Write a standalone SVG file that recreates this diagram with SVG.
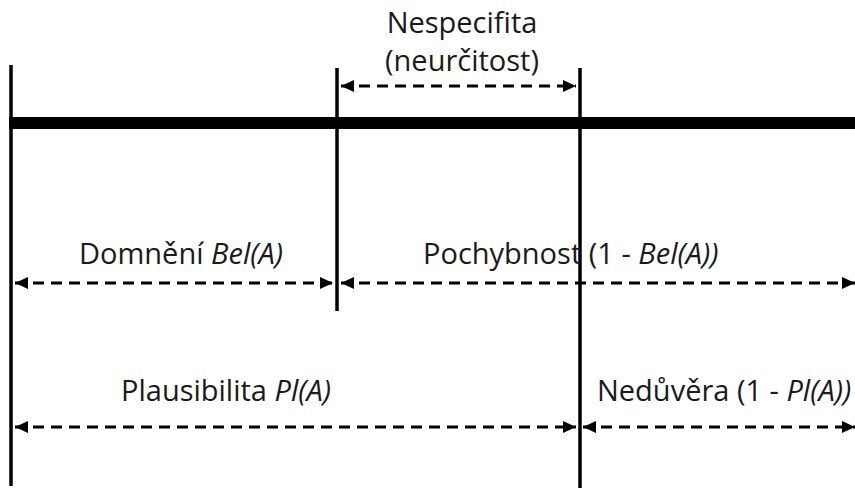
<svg xmlns="http://www.w3.org/2000/svg" width="855" height="488" viewBox="0 0 855 488">
  <style>
    .lbl { font-family: "Open Sans", "Noto Sans", sans-serif; font-size: 29px; fill: #1a1a1a; }
    .it { font-style: italic; }
    .bound { stroke: #000; stroke-width: 3.5; fill: none; }
    .span { stroke: #000; stroke-width: 3; stroke-dasharray: 11 7; fill: none; }
  </style>
  <defs>
    <marker id="head" viewBox="0 0 13 12" refX="13" refY="6" markerWidth="13" markerHeight="12" markerUnits="userSpaceOnUse" orient="auto-start-reverse">
      <path d="M0 0 L13 6 L0 12 Z" fill="#000"/>
    </marker>
  </defs>

  <!-- scale axis and boundaries -->
  <g id="axis">
    <rect x="9" y="117" width="846" height="12" fill="#000"/>
    <line class="bound" x1="11" y1="65" x2="11" y2="486"/>
    <line class="bound" x1="337" y1="68" x2="337" y2="311"/>
    <line class="bound" x1="580" y1="68" x2="580" y2="488"/>
  </g>

  <!-- interval spans -->
  <g id="connectors">
    <line class="span" x1="341" y1="86" x2="576" y2="86" marker-start="url(#head)" marker-end="url(#head)"/>
    <line class="span" x1="15" y1="283" x2="333" y2="283" marker-start="url(#head)" marker-end="url(#head)"/>
    <line class="span" x1="341" y1="283" x2="855" y2="283" marker-start="url(#head)" marker-end="url(#head)"/>
    <line class="span" x1="15" y1="427" x2="576" y2="427" marker-start="url(#head)" marker-end="url(#head)"/>
    <line class="span" x1="583" y1="427" x2="855" y2="427" marker-start="url(#head)" marker-end="url(#head)"/>
  </g>

  <g id="nespecifita">
    <text class="lbl" x="462" y="33" text-anchor="middle">Nespecifita</text>
    <text class="lbl" x="462" y="71" text-anchor="middle">(neurčitost)</text>
  </g>
  <g id="domneni">
    <text class="lbl" x="79" y="264">Domnění <tspan class="it">Bel(A)</tspan></text>
  </g>
  <g id="pochybnost">
    <text class="lbl" x="423" y="264">Pochybnost (1 - <tspan class="it">Bel(A))</tspan></text>
  </g>
  <g id="plausibilita">
    <text class="lbl" x="121" y="401">Plausibilita <tspan class="it">Pl(A)</tspan></text>
  </g>
  <g id="neduvera">
    <text class="lbl" x="597" y="401">Nedůvěra (1 - <tspan class="it">Pl(A))</tspan></text>
  </g>
</svg>
